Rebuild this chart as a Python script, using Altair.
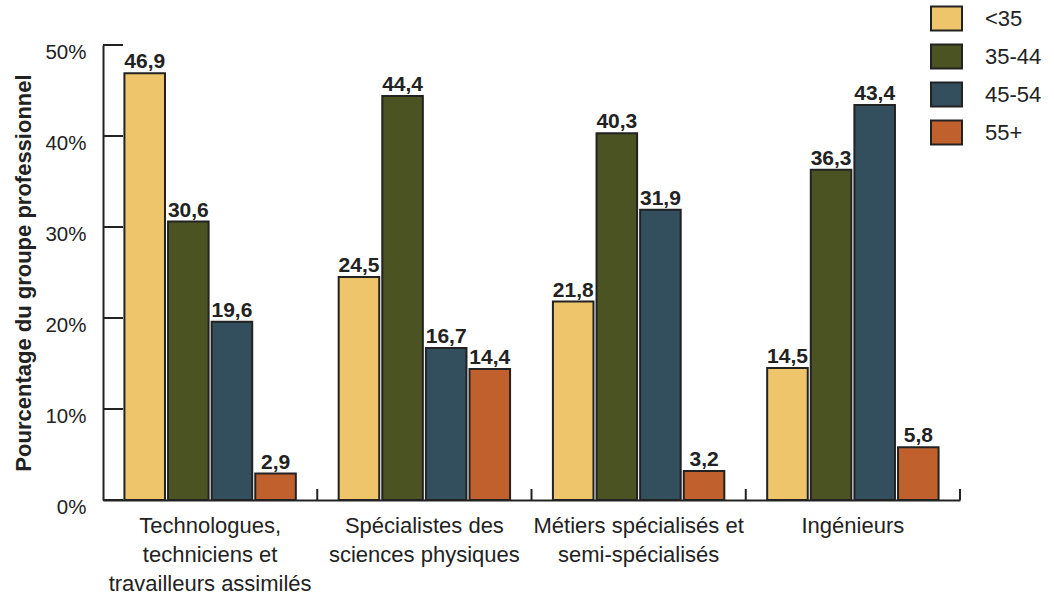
import altair as alt
import pandas as pd

groups = ["Technologues,|techniciens et|travailleurs assimilés",
          "Spécialistes des|sciences physiques",
          "Métiers spécialisés et|semi-spécialisés",
          "Ingénieurs"]
ages = ["<35", "35-44", "45-54", "55+"]
v_lt35 = [46.9, 24.5, 21.8, 14.5]
v_35_44 = [30.6, 44.4, 40.3, 36.3]
v_45_54 = [19.6, 16.7, 31.9, 43.4]
v_55p = [2.9, 14.4, 3.2, 5.8]
colors = ["#EEC56A", "#4B5323", "#334F5E", "#C0612D"]
y_ticks = [0, 10, 20, 30, 40, 50]
group_edges = [1, 2, 3, 4]

rows = []
for series, vals in zip(ages, [v_lt35, v_35_44, v_45_54, v_55p]):
    for g, v in zip(groups, vals):
        rows.append({"groupe": g, "age": series, "pct": v,
                     "label": f"{v:.1f}".replace(".", ",")})
df = pd.DataFrame(rows)

FONT = "Liberation Sans"
INK = "#222222"
W, H = 857, 455

xscale = alt.Scale(paddingInner=0.2, paddingOuter=0.1)
offscale = alt.Scale(paddingInner=0.07, paddingOuter=0)
yscale = alt.Scale(domain=[0, 50], nice=False)

bars = alt.Chart(df).mark_bar(stroke=INK, strokeWidth=2).encode(
    x=alt.X("groupe:N", sort=groups, scale=xscale,
            axis=alt.Axis(title=None, labelExpr="split(datum.label, '|')",
                          labelAngle=0, ticks=False, domainColor=INK, domainWidth=2,
                          labelFont=FONT, labelFontSize=22, labelColor=INK, labelLimit=400,
                          labelLineHeight=29, labelPadding=15, labelBaseline="top")),
    xOffset=alt.XOffset("age:N", sort=ages, scale=offscale),
    y=alt.Y("pct:Q", scale=yscale,
            axis=alt.Axis(title="Pourcentage du groupe professionnel", values=y_ticks,
                          labelExpr="datum.value + '%'", ticks=False, grid=False,
                          domainColor=INK, domainWidth=2, labelFont=FONT,
                          labelFontSize=20.5, labelColor=INK, labelPadding=17,
                          labelOffset=7, titleFont=FONT, titleFontSize=22,
                          titleFontWeight="bold", titleColor=INK, titlePadding=9)),
    color=alt.Color("age:N", sort=ages, scale=alt.Scale(domain=ages, range=colors),
                    legend=alt.Legend(title=None, orient="none", legendX=827, legendY=-43,
                                      symbolType="M-1,-0.774H1V0.774H-1Z", symbolSize=961,
                                      symbolStrokeColor=INK, symbolStrokeWidth=2,
                                      labelFont=FONT, labelFontSize=22, labelColor=INK,
                                      labelOffset=22, rowPadding=5, padding=0)),
)

text = alt.Chart(df).mark_text(dy=-5, baseline="alphabetic", font=FONT, fontSize=21,
                               fontWeight="bold", color=INK).encode(
    x=alt.X("groupe:N", sort=groups, scale=xscale),
    xOffset=alt.XOffset("age:N", sort=ages, scale=offscale),
    y=alt.Y("pct:Q", scale=yscale),
    text="label:N",
)

main = alt.layer(bars, text)

yticks = alt.Chart(pd.DataFrame({"t": y_ticks})).mark_rule(color=INK, strokeWidth=2).encode(
    y=alt.Y("t:Q", scale=yscale), x=alt.value(0), x2=alt.value(20))

edges = alt.Chart(pd.DataFrame({"e": group_edges})).mark_rule(color=INK, strokeWidth=2).encode(
    x=alt.X("e:Q", scale=alt.Scale(domain=[0, 4], nice=False), axis=None),
    y=alt.value(H), y2=alt.value(H - 11))

chart = alt.layer(main, yticks, edges).resolve_scale(x="independent").properties(
    width=W, height=H,
    autosize=alt.AutoSizeParams(type="none"),
    padding={"left": 103, "top": 45, "right": 94, "bottom": 101},
    background="white",
).configure_view(stroke=None)

chart.save("out.html", embed_options={"renderer": "svg", "actions": False})
